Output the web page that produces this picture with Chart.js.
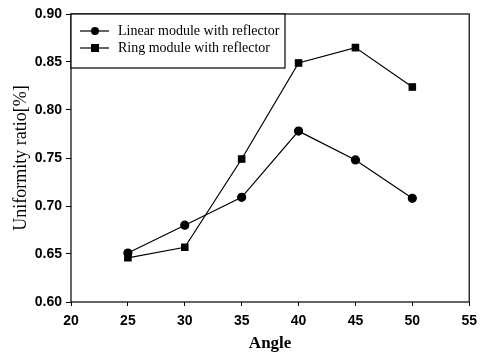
<!DOCTYPE html>
<html>
<head>
<meta charset="utf-8">
<script src="https://cdn.jsdelivr.net/npm/chart.js@4"></script>
<style>
  html, body { margin: 0; padding: 0; background: #fff; }
  #wrap { width: 484px; height: 353px; }
</style>
</head>
<body>
<div id="wrap"><canvas id="chart" width="484" height="353"></canvas></div>
<script>
// angles and measured uniformity for the two module types
const angles = [25, 30, 35, 40, 45, 50];
const linearModule = [0.651, 0.680, 0.709, 0.778, 0.748, 0.708];
const ringModule = [0.646, 0.657, 0.749, 0.849, 0.865, 0.824];
const seriesNames = ['Linear module with reflector', 'Ring module with reflector'];

const serif = '"Liberation Serif", "Times New Roman", serif';
const sans = '"Liberation Sans", Arial, sans-serif';

// frame around the plot and boxed legend in the top-left corner
const framePlugin = {
  id: 'frame',
  afterDraw(chart) {
    const ctx = chart.ctx;
    const a = chart.chartArea;
    ctx.save();
    ctx.strokeStyle = '#000';
    ctx.lineWidth = 1.2;
    ctx.strokeRect(a.left, a.top, a.right - a.left, a.bottom - a.top);

    // legend box
    const bx = a.left, by = a.top, bw = 214, bh = 54;
    ctx.fillStyle = '#fff';
    ctx.fillRect(bx, by, bw, bh);
    ctx.strokeRect(bx, by, bw, bh);
    chart.data.datasets.forEach((ds, i) => {
      const y = by + 17 + i * 17;
      ctx.beginPath();
      ctx.moveTo(bx + 9, y);
      ctx.lineTo(bx + 38, y);
      ctx.stroke();
      ctx.fillStyle = '#000';
      if (ds.pointStyle === 'rect') {
        ctx.fillRect(bx + 24 - 4, y - 4, 8, 8);
      } else {
        ctx.beginPath();
        ctx.arc(bx + 24, y, 4, 0, Math.PI * 2);
        ctx.fill();
      }
      ctx.font = '14px ' + serif;
      ctx.textBaseline = 'middle';
      ctx.textAlign = 'left';
      ctx.fillText(ds.label, bx + 47, y);
    });
    ctx.restore();
  }
};

new Chart(document.getElementById('chart'), {
  type: 'line',
  data: {
    datasets: [
      {
        label: seriesNames[0],
        data: angles.map((a, i) => ({ x: a, y: linearModule[i] })),
        borderColor: '#000',
        backgroundColor: '#000',
        borderWidth: 1.2,
        pointStyle: 'circle',
        pointRadius: 4,
        tension: 0
      },
      {
        label: seriesNames[1],
        data: angles.map((a, i) => ({ x: a, y: ringModule[i] })),
        borderColor: '#000',
        backgroundColor: '#000',
        borderWidth: 1.2,
        pointStyle: 'rect',
        pointRadius: 4.5,
        tension: 0
      }
    ]
  },
  options: {
    responsive: false,
    animation: false,
    layout: { padding: { top: 14, right: 14, left: 0, bottom: 0 } },
    plugins: {
      legend: { display: false },
      tooltip: { enabled: false }
    },
    scales: {
      x: {
        type: 'linear',
        min: 20,
        max: 55,
        ticks: {
          stepSize: 5,
          color: '#000',
          font: { family: sans, size: 14, weight: 'bold' },
          padding: 7,
          maxRotation: 0
        },
        grid: { display: true, drawOnChartArea: false, tickLength: 4, color: '#000' },
        border: { display: false },
        title: {
          display: true,
          text: 'Angle',
          color: '#000',
          font: { family: serif, size: 17, weight: 'bold' },
          padding: { top: 0, bottom: -1 }
        },
        afterFit(scale) { scale.height = 51; }
      },
      y: {
        min: 0.6,
        max: 0.9,
        ticks: {
          stepSize: 0.05,
          color: '#000',
          font: { family: sans, size: 14, weight: 'bold' },
          padding: 4,
          callback: v => v.toFixed(2)
        },
        grid: { display: true, drawOnChartArea: false, tickLength: 5, color: '#000' },
        border: { display: false },
        title: {
          display: true,
          text: 'Uniformity ratio[%]',
          color: '#000',
          font: { family: serif, size: 18 },
          padding: { top: 10, bottom: 0 }
        },
        afterFit(scale) { scale.width = 71; }
      }
    }
  },
  plugins: [framePlugin]
});
</script>
</body>
</html>
